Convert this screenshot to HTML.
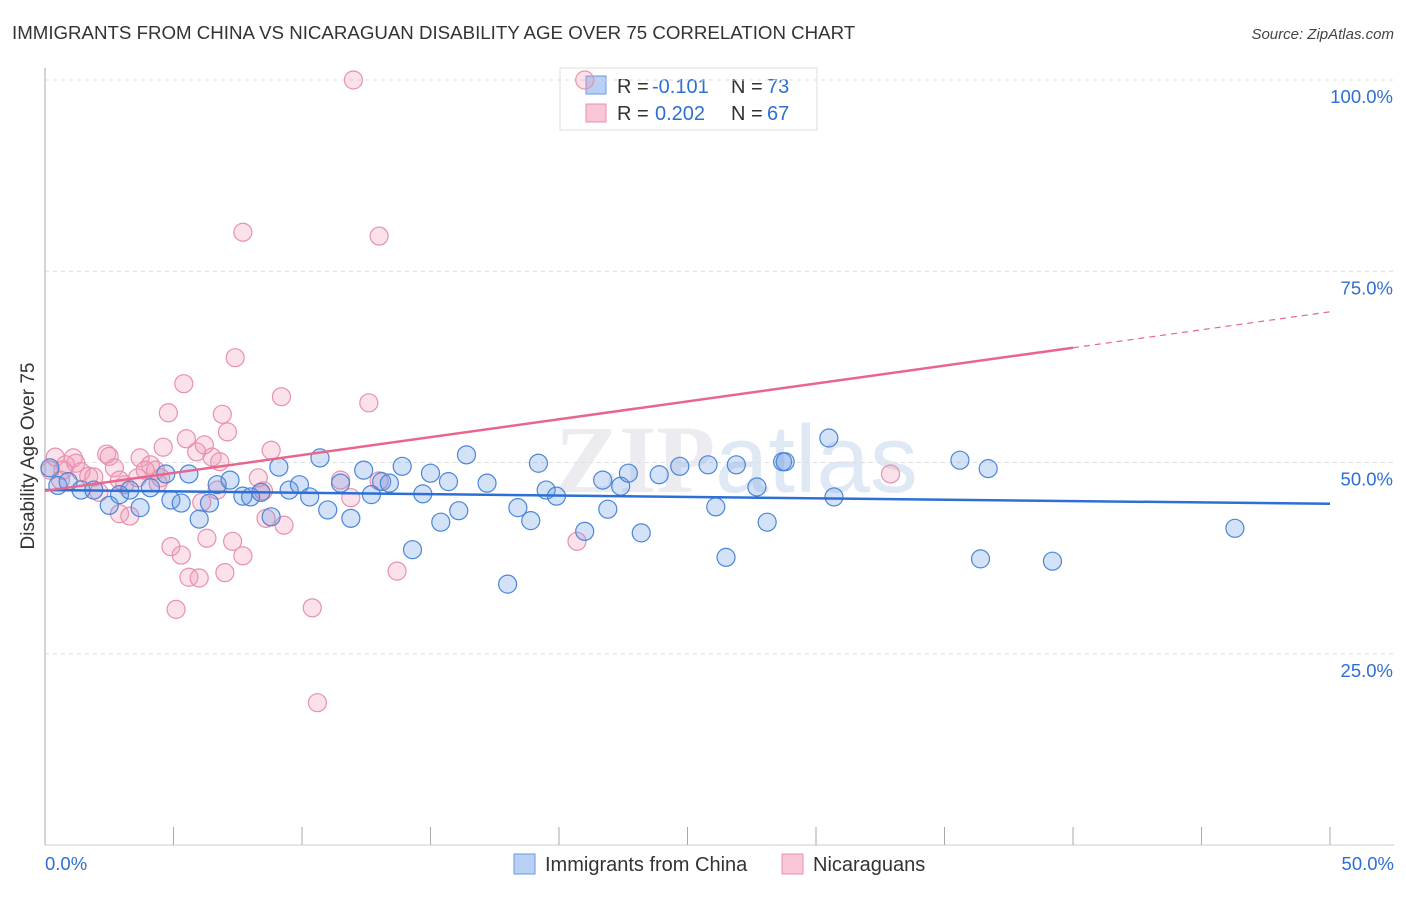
<!DOCTYPE html>
<html><head><meta charset="utf-8"><style>
body{margin:0;background:#fff;font-family:"Liberation Sans",sans-serif;}
</style></head><body>
<svg id="c" width="1406" height="892" xmlns="http://www.w3.org/2000/svg">
<text x="12" y="39" font-size="18.7" fill="#333">IMMIGRANTS FROM CHINA VS NICARAGUAN DISABILITY AGE OVER 75 CORRELATION CHART</text>
<text x="1394" y="39" font-size="15" fill="#444" font-style="italic" text-anchor="end">Source: ZipAtlas.com</text>
<text x="555" y="492" font-size="96" fill="#ececf0" font-weight="bold" font-family="Liberation Serif">ZIP<tspan font-family="Liberation Sans" font-weight="normal" fill="#dfe8f5">atlas</tspan></text>
<text transform="translate(34,456) rotate(-90)" font-size="19" fill="#333" text-anchor="middle">Disability Age Over 75</text>
<g>
<rect x="560" y="68" width="257" height="62" fill="#fff" stroke="#ddd"/>
<rect x="586" y="76" width="20" height="18" fill="#b8d0f4" stroke="#6a9ae0"/>
<rect x="586" y="104" width="20" height="18" fill="#f9c6d6" stroke="#e990ac"/>
<text x="617" y="93" font-size="20" fill="#333">R =</text><text x="652" y="93" font-size="20" fill="#2d6fd4">-0.101</text>
<text x="731" y="93" font-size="20" fill="#333">N =</text><text x="767" y="93" font-size="20" fill="#2d6fd4">73</text>
<text x="617" y="120" font-size="20" fill="#333">R =</text><text x="655" y="120" font-size="20" fill="#2d6fd4">0.202</text>
<text x="731" y="120" font-size="20" fill="#333">N =</text><text x="767" y="120" font-size="20" fill="#2d6fd4">67</text>
</g>
<g id="grid"></g><g id="pts"></g><g id="lines"></g>
<g>
<rect x="514" y="854" width="21" height="20" fill="#b8d0f4" stroke="#6a9ae0"/>
<text x="545" y="871" font-size="20" fill="#333">Immigrants from China</text>
<rect x="782" y="854" width="21" height="20" fill="#f9c6d6" stroke="#e990ac"/>
<text x="813" y="871" font-size="20" fill="#333">Nicaraguans</text>
</g>
</svg>
<script>
const blueX=[0.19,0.5,0.9,1.4,1.9,2.5,2.9,3.3,3.7,4.1,4.7,4.9,5.3,5.6,6.0,6.4,6.7,7.2,7.7,8.0,8.4,8.8,9.1,9.5,9.9,10.3,10.7,11.0,11.5,11.9,12.4,12.7,13.1,13.4,13.9,14.3,14.7,15.0,15.4,15.7,16.1,16.4,17.2,18.0,18.4,18.9,19.2,19.5,19.9,21.0,21.7,21.9,22.4,22.7,23.2,23.9,24.7,25.8,26.1,26.5,26.9,27.7,28.1,28.7,28.8,30.5,30.7,35.6,36.4,36.7,39.2,46.3];
const blueY=[49.3,47.0,47.5,46.4,46.4,44.4,45.8,46.4,44.1,46.7,48.5,45.1,44.7,48.5,42.6,44.7,47.1,47.7,45.6,45.5,46.1,42.9,49.4,46.4,47.1,45.5,50.6,43.8,47.3,42.7,49.0,45.8,47.5,47.3,49.5,38.6,45.9,48.6,42.2,47.5,43.7,51.0,47.3,34.1,44.1,42.4,49.9,46.4,45.6,41.0,47.7,43.9,46.9,48.6,40.8,48.4,49.5,49.7,44.2,37.6,49.7,46.8,42.2,50.1,50.1,53.2,45.5,50.3,37.4,49.2,37.1,41.4];
const pinkX=[12.0,21.0,7.7,13.0,7.4,5.4,9.2,4.8,6.9,12.6,7.1,5.5,4.6,8.8,5.9,6.5,2.4,2.5,3.7,1.1,0.4,1.2,0.7,1.4,1.7,1.9,2.7,4.1,4.3,3.6,4.5,3.1,2.1,2.9,3.3,7.3,4.9,5.3,6.3,7.7,5.6,6.0,7.0,5.1,10.4,10.6,13.7,20.7,8.3,8.5,9.3,8.6,6.7,6.8,6.1,11.5,11.9,13.0,32.9,2.9,0.6,0.2,0.8,3.9,4.4,8.4,6.2];
const pinkY=[100,100,80.1,79.6,63.7,60.3,58.6,56.5,56.3,57.8,54.0,53.1,52.0,51.6,51.4,50.7,51.1,50.8,50.6,50.6,50.7,49.9,49.0,48.8,48.2,48.1,49.3,49.7,49.0,48.0,48.0,47.1,46.1,43.3,43.0,39.7,39.0,37.9,40.1,37.8,35.0,34.9,35.6,30.8,31.0,18.6,35.8,39.7,48.0,46.3,41.8,42.7,46.4,50.1,44.8,47.7,45.4,47.6,48.5,47.7,47.7,49.0,49.7,49.0,47.3,46.1,52.3];
const yTicks=[25,50,75,100];
const xTicks=[0,5,10,15,20,25,30,35,40,45,50];
const blueTrend=[46.4,44.6];
const pinkTrend=[46.3,65.0,69.7];
const NS='http://www.w3.org/2000/svg';
const X=v=>45+v*25.7, Y=v=>845-v*7.65;
function mk(t,a,p){const e=document.createElementNS(NS,t);for(const k in a)e.setAttribute(k,a[k]);p.appendChild(e);return e;}
const g=document.getElementById('grid');
yTicks.forEach(t=>{
 const l=mk('line',{x1:45,x2:1394,y1:Y(t),y2:Y(t),stroke:'#ddd','stroke-dasharray':'4,4'},g);
 
 
 const tx=mk('text',{x:1393,y:Y(t)+23,'font-size':18.5,fill:'#2d6fd4','text-anchor':'end'},g);
 tx.textContent=t.toFixed(1)+'%';
 
 
});
const ax=mk('line',{x1:45,x2:45,y1:68,y2:845,stroke:'#aaa'},g);


const bx=mk('line',{x1:45,x2:1394,y1:845,y2:845,stroke:'#ccc'},g);


xTicks.forEach(t=>{
 const l=mk('line',{x1:X(t),x2:X(t),y1:827,y2:845,stroke:'#aaa'},g);
 
 
});
[[0,45,'start'],[50,1394,'end']].forEach(([v,x,a])=>{
 const tx=mk('text',{x:x,y:870,'font-size':18.5,fill:'#2d6fd4','text-anchor':a},g);
 tx.textContent=v.toFixed(1)+'%';
 
 
});
const p=document.getElementById('pts');
pinkX.forEach((v,i)=>{
 const c=mk('circle',{cx:X(v),cy:Y(pinkY[i]),r:9,fill:'rgba(240,150,180,0.28)',stroke:'#e990ac','stroke-width':1.2},p);
 
 
});
blueX.forEach((v,i)=>{
 const c=mk('circle',{cx:X(v),cy:Y(blueY[i]),r:9,fill:'rgba(100,150,230,0.28)',stroke:'#4a86d8','stroke-width':1.2},p);
 
 
});
const L=document.getElementById('lines');
const b=mk('line',{x1:X(0),y1:Y(blueTrend[0]),x2:X(50),y2:Y(blueTrend[1]),stroke:'#2d6fd4','stroke-width':2.5},L);


const pk=mk('line',{x1:X(0),y1:Y(pinkTrend[0]),x2:X(40),y2:Y(pinkTrend[1]),stroke:'#e8668e','stroke-width':2.5},L);


const pd=mk('line',{x1:X(40),y1:Y(pinkTrend[1]),x2:X(50),y2:Y(pinkTrend[2]),stroke:'#e8668e','stroke-width':1.2,'stroke-dasharray':'6,5'},L);


</script>
</body></html>
